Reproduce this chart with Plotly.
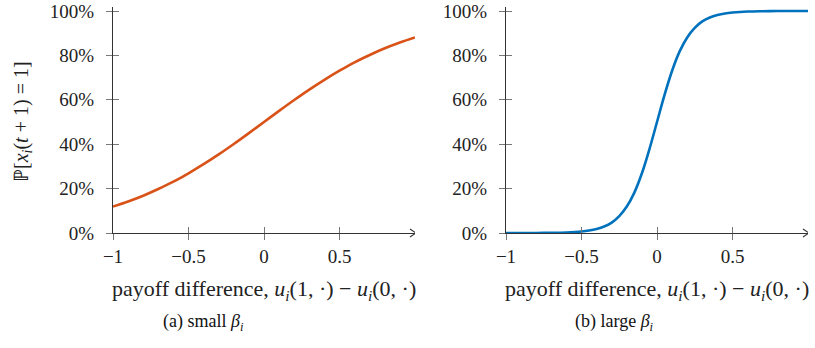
import plotly.graph_objects as go

# ---- data ----
x_small = [-1.0, -0.9, -0.8, -0.7, -0.6, -0.5, -0.4, -0.3, -0.2, -0.1, 0.0,
           0.1, 0.2, 0.3, 0.4, 0.5, 0.6, 0.7, 0.8, 0.9, 1.0]
p_small = [11.9, 14.2, 16.8, 19.8, 23.1, 26.9, 31.0, 35.4, 40.1, 45.0, 50.0,
           55.0, 59.9, 64.6, 69.0, 73.1, 76.9, 80.2, 83.2, 85.8, 88.1]

x_large = [-1.0, -0.9, -0.8, -0.7, -0.6, -0.5, -0.45, -0.4, -0.35, -0.3, -0.25,
           -0.2, -0.15, -0.1, -0.05, 0.0, 0.05, 0.1, 0.15, 0.2, 0.25, 0.3,
           0.35, 0.4, 0.45, 0.5, 0.6, 0.7, 0.8, 0.9, 1.0]
p_large = [0.0, 0.0, 0.03, 0.09, 0.25, 0.67, 1.1, 1.8, 2.9, 4.7, 7.6,
           11.9, 18.2, 26.9, 37.8, 50.0, 62.2, 73.1, 81.8, 88.1, 92.4, 95.3,
           97.1, 98.2, 98.9, 99.3, 99.75, 99.9, 99.97, 100.0, 100.0]

x_tickvals = [-1, -0.5, 0, 0.5]
x_ticktext = ["\u22121", "\u22120.5", "0", "0.5"]
y_tickvals = [0, 20, 40, 60, 80, 100]
y_ticktext = ["0%", "20%", "40%", "60%", "80%", "100%"]

captions = ["(a) small <i>\u03b2</i><sub><i>i</i></sub>",
            "(b) large <i>\u03b2</i><sub><i>i</i></sub>"]
xlabel = ("payoff difference, <i>u</i><sub><i>i</i></sub>(1, \u00b7) \u2212 "
          "<i>u</i><sub><i>i</i></sub>(0, \u00b7)")
ylabel = "\u2119[<i>x</i><sub><i>i</i></sub>(<i>t</i> + 1) = 1]"

colors = ["#D95319", "#0072BD"]

# ---- geometry (screen pixels; page body margin removed below) ----
W, H = 815, 348
def px_x(p):
    return p / W
def px_y(p):
    return 1 - p / H

left_px = [(113, 415), (506, 808)]
y0_px, ytop_px = 233, 7
ydom = [px_y(y0_px), px_y(ytop_px)]
yrange = [0, 100 * (y0_px - ytop_px) / (233 - 11)]
xrange = [-1, 1.0]

SERIF = "Liberation Serif"
TICKFONT = dict(family=SERIF, size=19, color="#222")
LINEC = "#333"
TICKC = "#777"

fig = go.Figure()

series = [(x_small, p_small), (x_large, p_large)]
for i, (xs, ys) in enumerate(series):
    n = i + 1
    xa = "x" if n == 1 else f"x{n}"
    ya = "y" if n == 1 else f"y{n}"
    fig.add_trace(go.Scatter(x=xs, y=ys, mode="lines", xaxis=xa, yaxis=ya,
                             line=dict(color=colors[i], width=2.6, shape="spline"),
                             showlegend=False, hoverinfo="skip", cliponaxis=False))

# overlay axes for inner half of crossing ticks
for i in range(2):
    n = i + 3
    fig.add_trace(go.Scatter(x=[None], y=[None], xaxis=f"x{n}", yaxis=f"y{n}",
                             showlegend=False, hoverinfo="skip"))

layout = dict(width=W, height=H, margin=dict(l=0, r=0, t=0, b=0, autoexpand=False),
              paper_bgcolor="white", plot_bgcolor="white", showlegend=False)

for i in range(2):
    n = i + 1
    dom = [px_x(left_px[i][0]), px_x(left_px[i][1])]
    xkey = "xaxis" if n == 1 else f"xaxis{n}"
    ykey = "yaxis" if n == 1 else f"yaxis{n}"
    ya = "y" if n == 1 else f"y{n}"
    xa = "x" if n == 1 else f"x{n}"
    layout[xkey] = dict(domain=dom, range=xrange, anchor=ya,
                        tickvals=x_tickvals, ticktext=x_ticktext,
                        ticks="outside", ticklen=6, tickcolor=TICKC, tickwidth=1,
                        showline=True, linecolor=LINEC, linewidth=1.2,
                        showgrid=False, zeroline=False, tickfont=TICKFONT,
                        ticklabelstandoff=0, automargin=False,
                        ticklabeloverflow="allow")
    layout[ykey] = dict(domain=ydom, range=yrange, anchor=xa,
                        tickvals=y_tickvals, ticktext=y_ticktext,
                        ticks="outside", ticklen=6, tickcolor=TICKC, tickwidth=1,
                        showline=True, linecolor=LINEC, linewidth=1.2,
                        showgrid=False, zeroline=False, tickfont=TICKFONT,
                        ticklabelstandoff=8, automargin=False,
                        ticklabeloverflow="allow")
    m = i + 3
    layout[f"xaxis{m}"] = dict(domain=dom, range=xrange, anchor=f"y{m}",
                               overlaying=xa, tickvals=x_tickvals,
                               ticks="inside", ticklen=6, tickcolor=TICKC,
                               showticklabels=False, showline=False,
                               showgrid=False, zeroline=False)
    layout[f"yaxis{m}"] = dict(domain=ydom, range=yrange, anchor=f"x{m}",
                               overlaying=ya, tickvals=y_tickvals,
                               ticks="inside", ticklen=6, tickcolor=TICKC,
                               showticklabels=False, showline=False,
                               showgrid=False, zeroline=False)

fig.update_layout(**layout)

annotations = []
shapes = []
for i in range(2):
    xa = "x" if i == 0 else "x2"
    cx = px_x((left_px[i][0] + left_px[i][1]) / 2)
    annotations.append(dict(text=xlabel, x=cx, y=px_y(290), xref="paper", yref="paper",
                            showarrow=False, xanchor="center", yanchor="middle",
                            font=dict(family=SERIF, size=22, color="#222")))
    capx = px_x([203, 614][i])
    annotations.append(dict(text=captions[i], x=capx, y=px_y(322), xref="paper", yref="paper",
                            showarrow=False, xanchor="center", yanchor="middle",
                            font=dict(family=SERIF, size=18, color="#111")))
    # arrow head at the end of the x axis
    shapes.append(dict(type="path", xref=xa, yref="paper", xsizemode="pixel",
                       ysizemode="pixel", xanchor=xrange[1], yanchor=ydom[0],
                       path="M -5,4 L 1,0 L -5,-4", line=dict(color=LINEC, width=1.1)))

annotations.append(dict(text=ylabel, x=px_x(22), y=px_y(122), xref="paper", yref="paper",
                        showarrow=False, textangle=-90, xanchor="center", yanchor="middle",
                        font=dict(family=SERIF, size=20, color="#222")))

fig.update_layout(annotations=annotations, shapes=shapes)
fig.write_html("out.html", config={"displayModeBar": False, "staticPlot": True},
               post_script="document.body.style.margin='0';document.body.style.overflow='hidden';")
